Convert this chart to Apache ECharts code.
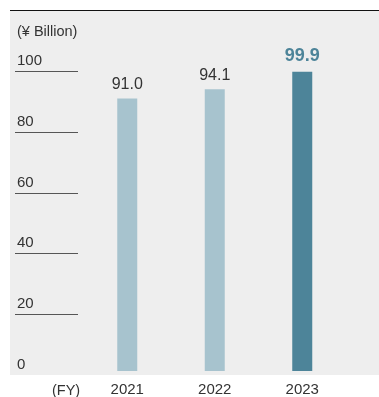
<!DOCTYPE html>
<html><head><meta charset="utf-8">
<script src="https://cdn.jsdelivr.net/npm/echarts@6/dist/echarts.min.js"></script>
<style>html,body{margin:0;padding:0;background:#fff}#c{width:379px;height:397px}</style>
</head><body><div id="c"></div>
<script>
var categories = ['2021', '2022', '2023'];
var values = [91.0, 94.1, 99.9];
var yTicks = [0, 20, 40, 60, 80, 100];
var unitLabel = '(¥ Billion)';
var fyLabel = '(FY)';

var FONT = '"Liberation Sans", Arial, sans-serif';
var chart = echarts.init(document.getElementById('c'));
var lightColor = '#a7c3ce';
var darkColor = '#4d8499';

chart.setOption({
  animation: false,
  textStyle: { fontFamily: FONT },
  graphic: [
    { type: 'rect', z: -10, silent: true, shape: { x: 10, y: 10, width: 369, height: 365 }, style: { fill: '#eeeeee' } },
    { type: 'line', z: 10, silent: true, shape: { x1: 10, y1: 10.5, x2: 379, y2: 10.5 }, style: { stroke: '#111', lineWidth: 1 } },
    { type: 'text', left: 17, top: 24, style: { text: unitLabel, font: '14.5px ' + FONT, fill: '#333' } },
    { type: 'text', left: 52, top: 383, style: { text: fyLabel, font: '14.5px ' + FONT, fill: '#333' } }
  ],
  grid: [
    { left: 83.5, right: 33, top: 71.5, bottom: 22 },
    { left: 15, width: 63, top: 71.5, bottom: 22 }
  ],
  xAxis: [
    { type: 'category', gridIndex: 0, data: categories, axisLine: { show: false }, axisTick: { show: false },
      axisLabel: { margin: 11, fontSize: 15, color: '#333', fontFamily: FONT } },
    { type: 'value', gridIndex: 1, show: false, min: 0, max: 1 }
  ],
  yAxis: [
    { type: 'value', gridIndex: 0, min: 0, max: 100, interval: 20, show: false },
    { type: 'value', gridIndex: 1, min: 0, max: 100, interval: 20, position: 'left',
      axisLine: { show: false }, axisTick: { show: false },
      splitLine: { show: true, lineStyle: { color: ['rgba(0,0,0,0)', '#555', '#555', '#555', '#555', '#555'], width: 1 } },
      axisLabel: { inside: true, margin: 2, verticalAlign: 'bottom', padding: [0, 0, 3, 0], fontSize: 15, color: '#333', fontFamily: FONT,
        formatter: function (v) { return yTicks.indexOf(v) >= 0 ? String(v) : ''; } } }
  ],
  series: [{
    type: 'bar', xAxisIndex: 0, yAxisIndex: 0, barWidth: 20,
    data: values.map(function (v, i) {
      var last = i === values.length - 1;
      return {
        value: v,
        itemStyle: { color: last ? darkColor : lightColor },
        label: last ? { fontSize: 18, fontWeight: 'bold', color: darkColor, distance: 7 } : { fontSize: 16, color: '#333', distance: 6 }
      };
    }),
    label: { show: true, position: 'top', fontFamily: FONT, formatter: function (p) { return p.value.toFixed(1); } }
  }]
});
</script></body></html>
